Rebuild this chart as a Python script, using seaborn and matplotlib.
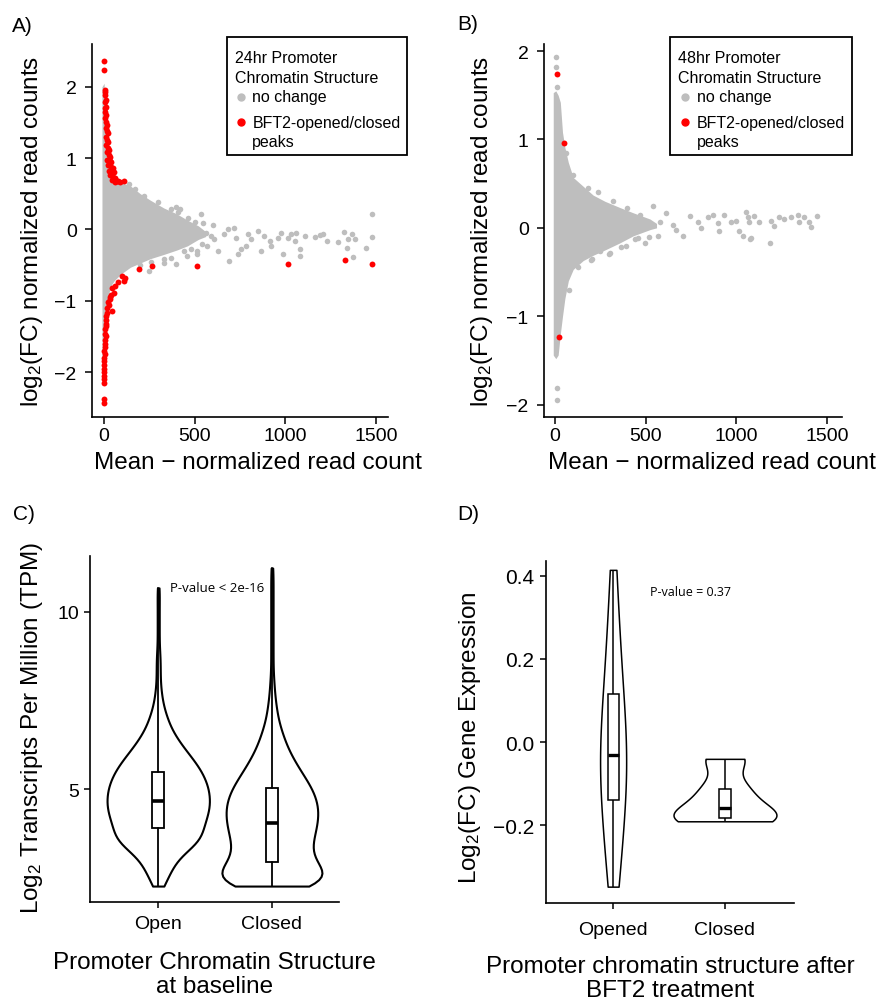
import numpy as np
import matplotlib
matplotlib.use("Agg")
import matplotlib.pyplot as plt
import seaborn as sns
from matplotlib.patches import Rectangle
from matplotlib.lines import Line2D

# ---------------- data ----------------
# A) 24hr MA plot : dense funnel (envelope) + sparse points
a_env_x = [-12, 0, 5, 10, 20, 35, 55, 90, 145, 200, 255, 330, 400, 460, 520, 560]
a_env_hi = [2.0, 2.05, 1.55, 1.25, 0.95, 0.8, 0.7, 0.66, 0.61, 0.5, 0.41, 0.3, 0.22, 0.13, 0.05, -0.03]
a_env_lo = [-1.9, -1.95, -1.6, -1.3, -0.97, -0.8, -0.72, -0.63, -0.53, -0.47, -0.41, -0.35, -0.29, -0.23, -0.14, -0.1]
a_grey_x = [537, 548, 561, 570, 515, 459, 589, 607, 626, 663, 682, 691, 718, 728, 737, 756,
            783, 793, 811, 848, 867, 885, 913, 922, 959, 978, 987, 1015, 1033, 1052, 1061,
            1080, 1080, 1107, 1163, 1191, 1209, 1228, 1289, 1324, 1339, 1348, 1367, 1376,
            1385, 1446, 1481, 1481, 246, 330, 394, 394, 515, 420, 600,
            135, 219, 300, 367, 405, 461, 500, 328, 200, 367, 440, 480, 540, 170, 260]
a_grey_y = [0.22, 0.09, -0.05, -0.23, -0.35, -0.37, -0.09, -0.13, -0.3, -0.07, 0.0, -0.44,
            0.02, -0.12, -0.35, -0.28, -0.23, -0.07, -0.14, -0.02, -0.3, -0.09, -0.16, -0.23,
            -0.12, -0.05, -0.35, -0.12, -0.07, -0.16, -0.05, -0.28, -0.37, -0.09, -0.1, -0.08,
            -0.07, -0.16, -0.17, -0.04, -0.26, -0.14, -0.07, -0.39, -0.14, -0.26, 0.21, -0.11,
            -0.58, -0.47, 0.31, -0.49, -0.3, 0.28, 0.06,
            0.63, 0.47, 0.38, 0.28, 0.25, 0.16, 0.1, -0.42, -0.5, -0.4, -0.3, -0.27, -0.2,
            0.57, -0.46]
a_red_x = [2, 2, 4, 6, 3, 8, 5, 10, 4, 7, 13, 6, 10, 16, 8, 14, 20, 10, 17, 24, 12, 20, 28,
           15, 25, 34, 18, 30, 40, 22, 36, 48, 28, 42, 55, 35, 50, 62, 45, 60, 70, 58, 75, 90, 107,
           98, 117, 108, 75, 61, 45, 52, 38, 30, 33, 22, 25, 18, 43, 15, 10, 12, 8, 11, 6, 5, 8,
           3, 4, 6, 2, 3, 1, 2, 0, 1, 0, 1, 0, 0, 1, 2, 194, 265, 511, 1015, 1330, 1478]
a_red_y = [2.36, 2.23, 1.96, 1.93, 1.88, 1.82, 1.78, 1.72, 1.7, 1.64, 1.6, 1.56, 1.5, 1.47,
           1.42, 1.38, 1.35, 1.3, 1.26, 1.22, 1.18, 1.14, 1.12, 1.08, 1.05, 1.02, 0.98, 0.96,
           0.94, 0.9, 0.88, 0.86, 0.82, 0.8, 0.8, 0.76, 0.74, 0.72, 0.7, 0.69, 0.68, 0.67, 0.68,
           0.66, 0.68,
           -0.65, -0.68, -0.72, -0.74, -0.79, -0.82, -0.89, -0.92, -0.95, -0.98, -1.02, -1.06,
           -1.1, -1.15, -1.17, -1.22, -1.27, -1.32, -1.35, -1.4, -1.46, -1.5, -1.55, -1.6, -1.65,
           -1.7, -1.75, -1.8, -1.85, -1.9, -1.95, -2.0, -2.05, -2.1, -2.15, -2.38, -2.44,
           -0.56, -0.51, -0.51, -0.49, -0.43, -0.48]

# B) 48hr MA plot
b_env_x = [-9, 5, 18, 30, 42, 55, 74, 101, 156, 211, 276, 358, 432, 524, 560]
b_env_hi = [1.53, 1.55, 1.5, 1.42, 1.08, 0.91, 0.74, 0.57, 0.47, 0.37, 0.30, 0.23, 0.17, 0.10, 0.05]
b_env_lo = [-1.44, -1.48, -1.44, -1.2, -1.0, -0.8, -0.6, -0.47, -0.37, -0.31, -0.25, -0.17, -0.09, -0.02, 0.0]
b_grey_x = [540, 614, 577, 568, 495, 440, 366, 302, 247, 202, 650, 669, 705, 742, 787, 806,
            842, 870, 897, 907, 934, 971, 998, 1016, 1035, 1053, 1062, 1071, 1081, 1099, 1126,
            1185, 1191, 1209, 1236, 1264, 1300, 1337, 1346, 1374, 1401, 1411, 1447, 1075,
            8, 8, 10, 10, 12,
            100, 180, 240, 320, 400, 470, 130, 200, 300, 390, 460, 520, 62, 80]
b_grey_y = [0.25, 0.17, 0.07, -0.09, -0.17, -0.13, -0.22, -0.28, -0.26, -0.35, 0.03, -0.02,
            -0.09, 0.13, 0.07, 0.0, 0.12, 0.15, 0.05, -0.04, 0.15, 0.07, 0.08, -0.04, -0.09,
            0.18, 0.12, 0.07, -0.12, 0.13, 0.07, -0.17, 0.08, 0.02, 0.12, 0.10, 0.12, 0.14,
            0.07, 0.12, 0.07, 0.01, 0.13, -0.13,
            1.93, 1.82, 1.59, -1.81, -1.95,
            0.6, 0.45, 0.4, 0.3, 0.22, 0.15, -0.44, -0.36, -0.3, -0.2, -0.12, -0.1, 0.85, -0.7]
b_red_x = [13, 50, 24]
b_red_y = [1.74, 0.96, -1.24]

# C) baseline expression, frequency table per group (log2 TPM)
c_groups = ["Open", "Closed"]
c_open_levels = [2.26, 2.5, 2.75, 3.0, 3.25, 3.5, 3.75, 4.0, 4.25, 4.5, 4.75, 5.0, 5.25, 5.5,
                 5.75, 6.0, 6.25, 6.5, 6.75, 7.0, 7.25, 7.5, 7.75, 8.0, 8.25, 8.5, 8.75, 9.0,
                 9.25, 9.5, 9.75, 10.0, 10.25, 10.5, 10.68]
c_open_counts = [6, 9, 14, 18, 28, 41, 44, 45, 49, 51, 51, 50, 47, 43, 37, 30, 23, 17, 12, 9,
                 6, 4, 3, 2, 2, 2, 2, 1, 1, 1, 1, 1, 1, 1, 1]
c_closed_levels = [2.26, 2.5, 2.75, 3.0, 3.25, 3.5, 3.75, 4.0, 4.25, 4.5, 4.75, 5.0, 5.25, 5.5,
                   5.75, 6.0, 6.25, 6.5, 6.75, 7.0, 7.25, 7.5, 7.75, 8.0, 8.25, 8.5, 8.75, 9.0,
                   9.25, 9.5, 9.75, 10.0, 10.25, 10.5, 10.75, 11.0, 11.24]
c_closed_counts = [45, 50, 44, 36, 33, 35, 37, 39, 40, 40, 38, 35, 30, 25, 20, 16, 12, 10, 7, 5,
                   4, 3, 2, 2, 1, 1, 1, 1, 1, 1, 1, 1, 1, 1, 1, 1, 1]
c_q1 = [3.9, 2.94]
c_med = [4.66, 4.04]
c_q3 = [5.48, 5.03]

# D) log2 fold change of genes near opened / closed promoters
d_groups = ["Opened", "Closed"]
d_opened = [-0.347, -0.29, -0.24, -0.19, -0.14, -0.11, -0.08, -0.055, -0.03, 0.0, 0.04, 0.08,
            0.116, 0.17, 0.23, 0.30, 0.414]
d_closed = [-0.19, -0.183, -0.158, -0.112, -0.04]

GREY = "#BEBEBE"
RED = "#FF0000"
W, H = 877, 1004

sns.set_theme(style="ticks")
plt.rcParams["font.family"] = ["Liberation Sans", "DejaVu Sans"]
plt.rcParams["mathtext.default"] = "regular"
plt.rcParams["axes.linewidth"] = 1.2
for key in ["text.color", "axes.labelcolor", "axes.edgecolor", "xtick.color", "ytick.color"]:
    plt.rcParams[key] = "black"


def fx(px):
    return px / W


def fy(py):
    return 1 - py / H


def make_axes(left, top, right, bottom):
    return fig.add_axes([fx(left), fy(bottom), (right - left) / W, (bottom - top) / H])


def key_box(box, tx, mx, ttx, title):
    x0, y0, x1, y1 = box
    fig.add_artist(Rectangle((fx(x0), fy(y1)), (x1 - x0) / W, (y1 - y0) / H,
                             transform=fig.transFigure, fill=False, ec="black", lw=1.3))
    for txt, yy in zip(title, [58.3, 78.3]):
        fig.text(fx(tx), fy(yy), txt, fontsize=11.5, va="center", ha="left")
    fig.add_artist(Line2D([fx(mx)], [fy(97.7)], marker="o", ms=5, color=GREY, lw=0,
                          transform=fig.transFigure))
    fig.add_artist(Line2D([fx(mx)], [fy(123)], marker="o", ms=5, color=RED, lw=0,
                          transform=fig.transFigure))
    fig.text(fx(ttx), fy(97.7), "no change", fontsize=11.5, va="center", ha="left")
    fig.text(fx(ttx), fy(123.3), "BFT2-opened/closed", fontsize=11.5, va="center", ha="left")
    fig.text(fx(ttx), fy(142.3), "peaks", fontsize=11.5, va="center", ha="left")


def ma_panel(ax, env_x, env_lo, env_hi, gx, gy, rx, ry, xlim, ylim, xlab_x, ylab_x):
    ax.fill_between(env_x, env_lo, env_hi, color=GREY, lw=0, zorder=1)
    sns.scatterplot(x=gx, y=gy, color=GREY, s=16, linewidth=0, ax=ax, zorder=2)
    sns.scatterplot(x=rx, y=ry, color=RED, s=18, linewidth=0, ax=ax, zorder=3)
    ax.set_xlim(xlim)
    ax.set_ylim(ylim)
    ax.set_xticks([0, 500, 1000, 1500])
    ax.set_yticks([-2, -1, 0, 1, 2])
    sns.despine(ax=ax)
    ax.tick_params(labelsize=14, length=5, width=1.1)
    ax.tick_params(axis="y", pad=6)
    ax.tick_params(axis="x", pad=2)
    ax.set_xlabel("Mean \u2212 normalized read count", fontsize=17.5)
    ax.set_ylabel("log$_2$(FC) normalized read counts", fontsize=17.5)
    ax.xaxis.set_label_coords(xlab_x, -0.121)
    ax.xaxis.label.set_va("center")
    ax.yaxis.set_label_coords(ylab_x, 0.5)
    ax.yaxis.label.set_va("center")


fig = plt.figure(figsize=(W / 100, H / 100), dpi=100)

# ---------------- A ----------------
axA = make_axes(92, 45, 388, 418)
ma_panel(axA, a_env_x, a_env_lo, a_env_hi, a_grey_x, a_grey_y, a_red_x, a_red_y,
         (-67, 1567), (-2.63, 2.6), 0.561, -0.203)
key_box((226.7, 38.3, 407.3, 155.7), 235, 240.7, 252.3,
        ["24hr Promoter", "Chromatin Structure"])

# ---------------- B ----------------
axB = make_axes(544, 45, 842, 418)
ma_panel(axB, b_env_x, b_env_lo, b_env_hi, b_grey_x, b_grey_y, b_red_x, b_red_y,
         (-60, 1582), (-2.14, 2.08), 0.564, -0.208)
key_box((670, 37.7, 851.7, 155.7), 677.7, 685, 696.7,
        ["48hr Promoter", "Chromatin Structure"])

# ---------------- C ----------------
axC = make_axes(90, 557, 339, 903)
c_sets = [(c_open_levels, c_open_counts, 0.9), (c_closed_levels, c_closed_counts, 0.88)]
for grp, (lv, ct, w) in zip(c_groups, c_sets):
    vals = np.repeat(lv, ct)
    sns.violinplot(x=[grp] * len(vals), y=vals, order=c_groups, width=w, density_norm="width",
                   cut=0, inner=None, color="white", linecolor="black", linewidth=1.5,
                   bw_adjust=0.7, ax=axC)
c_stats = []
for i in range(2):
    lv = c_open_levels if i == 0 else c_closed_levels
    c_stats.append(dict(med=c_med[i], q1=c_q1[i], q3=c_q3[i], whislo=min(lv), whishi=max(lv),
                        fliers=[]))
axC.bxp(c_stats, positions=[0, 1], widths=0.105, showcaps=False, showfliers=False,
        patch_artist=True, manage_ticks=False,
        boxprops=dict(facecolor="white", edgecolor="black", lw=1.3),
        medianprops=dict(color="black", lw=2.6),
        whiskerprops=dict(color="black", lw=1.3))
axC.set_xlim(-0.6, 1.59)
axC.set_ylim(1.81, 11.58)
axC.set_yticks([5, 10])
sns.despine(ax=axC)
axC.tick_params(labelsize=14, length=4.5, width=1.1)
axC.tick_params(axis="x", pad=5)
axC.set_xlabel("Promoter Chromatin Structure\nat baseline", fontsize=17.5, linespacing=1.1)
axC.set_ylabel("Log$_2$ Transcripts Per Million (TPM)", fontsize=17.5)
axC.xaxis.set_label_coords(0.5, -0.208)
axC.xaxis.label.set_va("center")
axC.yaxis.set_label_coords(-0.233, 0.507)
axC.yaxis.label.set_va("center")
axC.text(0.52, 10.7, "P-value < 2e-16", fontsize=9.5, ha="center", va="center",
         family=["Open Sans", "DejaVu Sans"])

# ---------------- D ----------------
axD = make_axes(546, 561.7, 794, 904.3)
for grp, vals, w, bwa in zip(d_groups, [d_opened, d_closed], [0.233, 0.92], [1.0, 0.65]):
    sns.violinplot(x=[grp] * len(vals), y=vals, order=d_groups, width=w, density_norm="width",
                   cut=0, inner=None, color="white", linecolor="black", linewidth=1.1,
                   bw_adjust=bwa, ax=axD)
d_x = ["Opened"] * len(d_opened) + ["Closed"] * len(d_closed)
d_y = d_opened + d_closed
sns.boxplot(x=d_x, y=d_y, order=d_groups, width=0.1, whis=(0, 100), color="white",
            linecolor="black", linewidth=1.1, showcaps=False, showfliers=False,
            medianprops=dict(lw=2.4), ax=axD)
axD.set_xlim(-0.6, 1.617)
axD.set_ylim(-0.387, 0.436)
axD.set_yticks([-0.2, 0.0, 0.2, 0.4])
axD.yaxis.set_major_formatter(
    matplotlib.ticker.FuncFormatter(lambda v, pos: f"{v:.1f}".replace("-", "\u2212")))
sns.despine(ax=axD)
axD.tick_params(length=4.5, width=1.1)
axD.tick_params(axis="y", labelsize=15, pad=4)
axD.tick_params(axis="x", labelsize=14, pad=8)
axD.set_xlabel("Promoter chromatin structure after\nBFT2 treatment", fontsize=17.5,
               linespacing=1.15)
axD.set_ylabel("Log$_2$(FC) Gene Expression", fontsize=17.5)
axD.xaxis.set_label_coords(0.5, -0.218)
axD.xaxis.label.set_va("center")
axD.yaxis.set_label_coords(-0.306, 0.485)
axD.yaxis.label.set_va("center")
axD.text(0.69, 0.362, "P-value = 0.37", fontsize=9, ha="center", va="center",
         family=["Open Sans", "DejaVu Sans"])

# panel letters
for lab, px, py in [("A)", 12, 26), ("B)", 457, 24), ("C)", 13, 515), ("D)", 457, 515)]:
    fig.text(fx(px), fy(py), lab, fontsize=15, ha="left", va="center")

fig.savefig("out.png", dpi=100)
